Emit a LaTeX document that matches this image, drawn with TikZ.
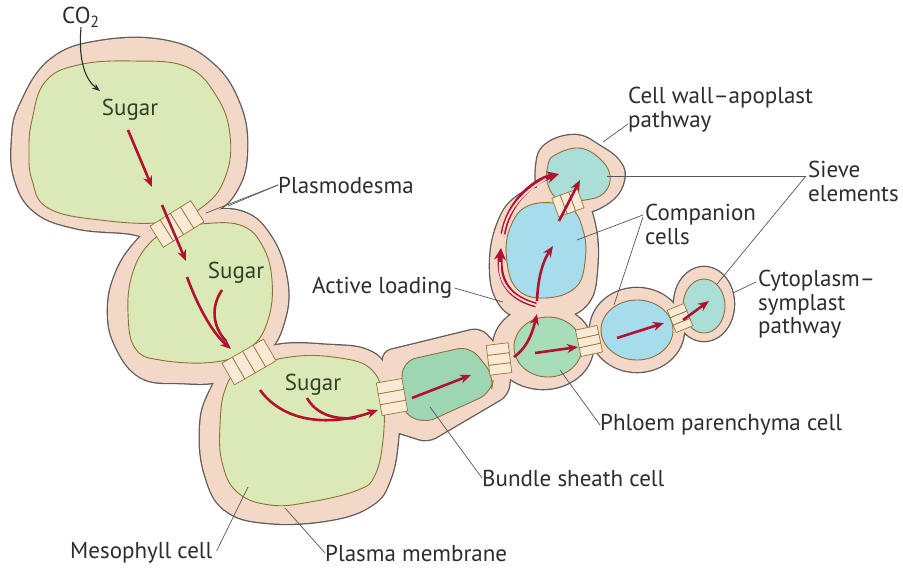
\documentclass[tikz,border=0pt]{standalone}
\usepackage{fontspec}
\setmainfont{PT Sans}
\usetikzlibrary{arrows.meta,calc}

\definecolor{wallfill}{RGB}{243,216,200}
\definecolor{wallline}{RGB}{95,92,90}
\definecolor{membrane}{RGB}{140,112,62}
\definecolor{meso}{RGB}{219,233,182}
\definecolor{sheath}{RGB}{158,214,180}
\definecolor{parench}{RGB}{168,221,186}
\definecolor{compan}{RGB}{166,220,236}
\definecolor{sieve}{RGB}{170,222,214}
\definecolor{flow}{RGB}{178,18,48}
\definecolor{flowcore}{RGB}{246,214,208}
\definecolor{pdfill}{RGB}{250,233,212}
\definecolor{pdline}{RGB}{150,120,62}
\definecolor{ink}{RGB}{45,45,45}
\definecolor{sugarink}{RGB}{48,66,40}

% outer cell walls; #1 = how the outlines are painted
\newcommand\cellwalls[1]{%
  % mesophyll cell 1
  \path[#1] plot[smooth cycle, tension=0.7] coordinates {(20,105) (50,60) (100,41) (167,41) (213,64) (240,105) (247,150) (238,188) (212,214) (160,236) (125,233) (75,228) (35,212) (15,180) (12,140)};
  % mesophyll cell 2
  \path[#1] plot[smooth cycle, tension=0.7] coordinates {(195,213) (240,211) (270,235) (287,280) (284,322) (265,355) (225,380) (180,383) (140,377) (115,345) (108,310) (115,275) (133,245) (158,224)};
  % mesophyll cell 3
  \path[#1] plot[smooth cycle, tension=0.7] coordinates {(232,362) (277,345) (330,345) (367,350) (387,368) (398,400) (398,440) (390,480) (372,505) (330,520) (268,523) (225,510) (205,475) (200,430) (208,395)};
  % bundle sheath cell
  \path[#1, rounded corners=9] (382,352) -- (480,328) -- (512,362) -- (508,395) -- (428,442) -- (390,430) -- cycle;
  % phloem parenchyma cell
  \path[#1] (543,347) ellipse [x radius=50, y radius=42];
  % companion cells
  \path[#1] (637,330) ellipse [x radius=47, y radius=42];
  \path[#1] plot[smooth cycle, tension=0.7] coordinates {(545,187) (580,195) (595,225) (597,270) (588,303) (560,318) (520,318) (497,300) (490,265) (497,225) (515,198)};
  % sieve elements
  \path[#1] (704,304) ellipse [x radius=30, y radius=37];
  \path[#1] plot[smooth cycle, tension=0.7] coordinates {(545,145) (575,135) (600,146) (620,162) (624,180) (612,200) (585,213) (560,212) (540,195) (536,168)};
}

% a row of plasmodesmata: centre x, centre y, angle, count, width, length
\newcommand\pdrow[6]{%
  \begin{scope}[shift={(#1,#2)}, rotate=#3]
    \foreach \k in {1,...,#4}{
      \path[pdstyle] ({(\k-1-#4/2)*#5}, {-#6/2}) rectangle ++(#5,#6);
    }
  \end{scope}}

\begin{document}
\begin{tikzpicture}[x=1pt, y=-1pt,
  font=\fontsize{23}{23.5}\selectfont,
  lbl/.style={text=ink, inner sep=0pt},
  sugar/.style={text=sugarink, inner sep=0pt},
  leader/.style={draw=ink!80, line width=0.7pt},
  cyto/.style={draw=membrane, line width=0.9pt},
  pdstyle/.style={fill=pdfill, draw=pdline, line width=0.7pt},
  flowarrow/.style={draw=flow, line width=2.6pt, -{Stealth[length=11pt, width=9pt]}},
  flowline/.style={draw=flow, line width=2.6pt},
  apo/.style={draw=flow, line width=5pt, -{Stealth[length=12pt, width=12pt]}},
  apocore/.style={draw=flowcore, line width=2pt},
  co2arrow/.style={draw=ink, line width=1.1pt, -{Stealth[length=8pt, width=6pt]}}]

\path[use as bounding box, fill=white] (0,0) rectangle (903,571);

% cell walls: outline first, then the fill covers the overlaps
\cellwalls{draw=wallline, line width=2.6pt}
\cellwalls{fill=wallfill}

% cytoplasm inside each plasma membrane
\path[cyto, fill=meso] plot[smooth cycle, tension=0.7] coordinates {(32,120) (45,82) (78,65) (133,61) (187,67) (217,97) (230,135) (226,175) (205,205) (165,222) (100,220) (48,208) (32,180) (29,150)};
\path[cyto, fill=meso] plot[smooth cycle, tension=0.7] coordinates {(200,224) (240,225) (262,245) (272,280) (268,320) (250,348) (215,362) (160,360) (135,348) (128,313) (132,275) (148,245) (172,229)};
\path[cyto, fill=meso] plot[smooth cycle, tension=0.7] coordinates {(240,372) (290,357) (340,358) (372,370) (383,400) (383,440) (375,475) (358,490) (310,502) (270,505) (237,492) (222,462) (220,425) (225,390)};
\path[cyto, fill=sheath, rounded corners=13] (403,361) -- (470,346) -- (494,376) -- (491,393) -- (423,424) -- (400,410) -- cycle;
\path[cyto, fill=parench] (548,347) ellipse [x radius=34, y radius=30];
\path[cyto, fill=compan] (637,330) ellipse [x radius=36, y radius=30];
\path[cyto, fill=compan] plot[smooth cycle, tension=0.7] coordinates {(530,205) (568,207) (583,230) (585,262) (575,288) (545,298) (518,290) (507,262) (510,228)};
\path[cyto, fill=sieve] (704,306) ellipse [x radius=21, y radius=27];
\path[cyto, fill=sieve] plot[smooth cycle, tension=0.7] coordinates {(555,155) (578,148) (598,157) (610,175) (604,193) (585,200) (560,200) (548,185) (548,165)};

% plasmodesmata
\pdrow{177}{224}{32}{4}{12}{25}
\pdrow{249}{362}{30}{4}{12}{25}
\pdrow{392}{397}{100}{3}{11}{26}
\pdrow{499}{359}{97}{3}{10}{22}
\pdrow{589}{341}{102}{3}{9}{22}
\pdrow{680}{318}{112}{3}{8}{18}
\pdrow{568}{203}{20}{3}{9}{20}

% sugar movement
\path[flowarrow] (128,130) -- (152,187);
\path[flowarrow] (162,205) -- (186,261);
\path[flowline] (222,290) .. controls (211,306) and (212,326) .. (226,341);
\path[flowarrow] (187,277) .. controls (200,312) and (214,334) .. (231,349);
\path[flowline] (307,398) .. controls (316,414) and (334,420) .. (356,418);
\path[flowarrow] (260,390) .. controls (285,424) and (332,426) .. (378,410);
\path[flowarrow] (412,398) -- (471,375);
\path[flowarrow] (514,357) .. controls (529,346) and (533,330) .. (537,314);
\path[flowarrow] (535,353) -- (578,347);
\path[flowarrow] (617,338) -- (664,323);
\path[flowarrow] (683,320) -- (709,301);
\path[flowarrow] (537,301) .. controls (538,277) and (543,261) .. (553,246);
\path[flowarrow] (559,221) -- (580,180);

% apoplastic route through the wall
\path[apo] (536,305) .. controls (510,298) and (498,282) .. (501,248);
\path[apocore] (536,305) .. controls (510,298) and (498,282) .. (500,262);
\path[apo] (503,234) .. controls (508,205) and (530,182) .. (559,174);
\path[apocore] (503,234) .. controls (506,212) and (522,192) .. (546,179);

% carbon fixation
\node[lbl] (co2) at (81,17) {CO\textsubscript{2}};
\coordinate (fix) at (100,91);
\path[co2arrow] (co2.south) .. controls (78,62) and (86,80) .. (fix);

% sugar labels
\node[sugar] (sug1) at (130,110) {Sugar};
\node[sugar] (sug2) at (236,273) {Sugar};
\node[sugar] (sug3) at (313,385) {Sugar};

% labels and leaders
\node[lbl, anchor=west] (plasmo) at (278,185) {Plasmodesma};
\coordinate (pdA) at (206,213);
\coordinate (pdB) at (228,206);
\draw[leader] (plasmo.west) -- (pdA);
\draw[leader] (plasmo.west) -- (pdB);

\node[lbl, anchor=west] (active) at (312,288) {Active loading};
\coordinate (loadpt) at (503,302);
\draw[leader] ($(active.east)+(2,0)$) -- (loadpt);

\node[lbl, anchor=north west, align=left] (apolbl) at (628,87) {Cell wall–apoplast\\pathway};
\coordinate (apowall) at (603,142);
\draw[leader] ($(apolbl.south west)+(0,-8)$) -- (apowall);

\node[lbl, anchor=north west, align=left] (sievelbl) at (808,161) {Sieve\\elements};
\coordinate (seUp) at (607,176);
\coordinate (seLow) at (717,284);
\draw[leader] ($(sievelbl.north west)+(-2,15)$) -- (seUp);
\draw[leader] ($(sievelbl.north west)+(-2,15)$) -- (seLow);

\node[lbl, anchor=north west, align=left] (complbl) at (645,204) {Companion\\cells};
\coordinate (ccUp) at (577,240);
\coordinate (ccLow) at (614,305);
\draw[leader] ($(complbl.north west)+(-2,11)$) -- (ccUp);
\draw[leader] ($(complbl.north west)+(-2,13)$) -- (ccLow);

\node[lbl, anchor=north west, align=left] (symlbl) at (758,270) {Cytoplasm–\\symplast\\pathway};
\coordinate (symwall) at (733,293);
\draw[leader] ($(symlbl.north west)+(-2,12)$) -- (symwall);

\node[lbl, anchor=west] (pplbl) at (600,425) {Phloem parenchyma cell};
\coordinate (ppcell) at (560,370);
\draw[leader] (pplbl.west) -- (ppcell);

\node[lbl, anchor=west] (bslbl) at (482,478) {Bundle sheath cell};
\coordinate (bscell) at (430,407);
\draw[leader] (bslbl.west) -- (bscell);

\node[lbl, anchor=west] (meslbl) at (70,553) {Mesophyll cell};
\coordinate (mescell) at (248,487);
\draw[leader] ($(meslbl.east)+(4,-2)$) -- (mescell);

\node[lbl, anchor=west] (pmlbl) at (325,553) {Plasma membrane};
\coordinate (pmline) at (285,508);
\draw[leader] (pmlbl.west) -- (pmline);

\end{tikzpicture}
\end{document}
